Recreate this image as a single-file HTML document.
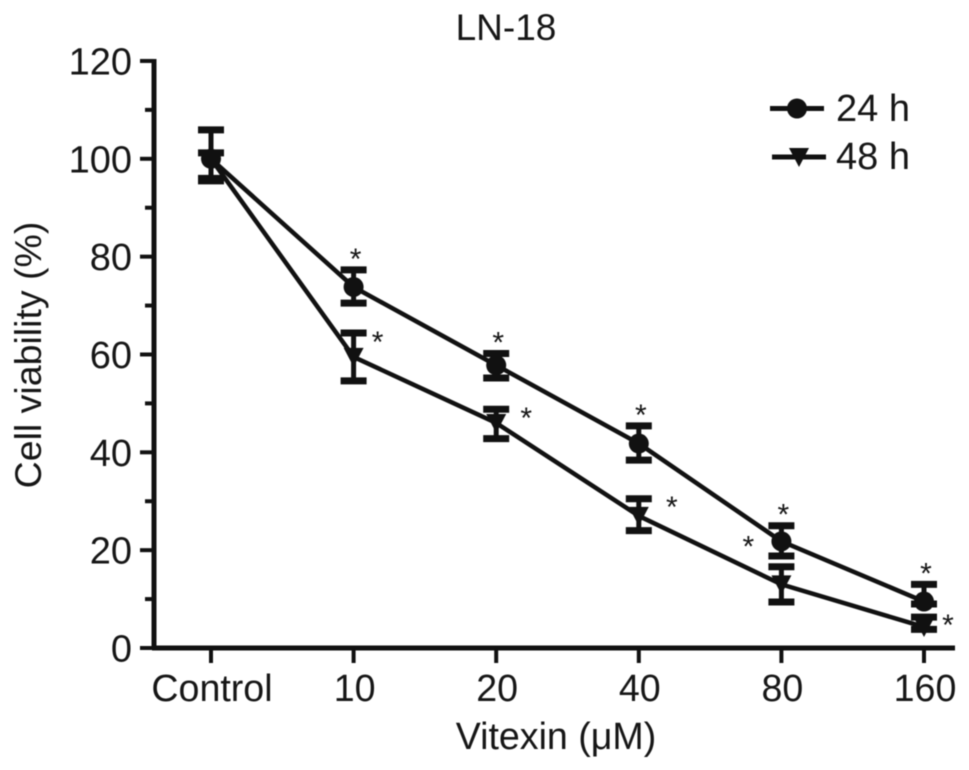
<!DOCTYPE html>
<html>
<head>
<meta charset="utf-8">
<style>
html,body{margin:0;padding:0;background:#fff;}
svg{display:block;filter:blur(0.5px);}
text{font-family:"Liberation Sans",sans-serif;fill:#161616;}
</style>
</head>
<body>
<svg id="chart" width="969" height="770" viewBox="0 0 969 770" xmlns="http://www.w3.org/2000/svg"></svg>
<script>
const categories = ['Control', '10', '20', '40', '80', '160'];
const yTickLabels = [0, 20, 40, 60, 80, 100, 120];
const yMinorTicks = [10, 30, 50, 70, 90, 110];
const values24h = [100, 73.8, 57.8, 41.8, 21.8, 9.5];
const errUp24h = [5.9, 3.5, 2.4, 3.6, 3.2, 3.5];
const errDown24h = [4, 3.3, 2.6, 3.4, 3, 0.5];
const values48h = [100, 59.5, 46, 27, 13, 4.3];
const errUp48h = [1.2, 4.9, 2.8, 3.5, 3.6, 2];
const errDown48h = [4.5, 4.9, 3.2, 3, 3.6, 0.5];
const stars24h = ['', '*', '*', '*', '*', '*'];
const stars48h = ['', '*', '*', '*', '*', '*'];

const svg = document.getElementById('chart');
const NS = 'http://www.w3.org/2000/svg';
const yAxis = v => 648 - v * 4.892;
const xAxis = i => 211 + i * 142.6;
const INK = '#111';

function make(tag, attrs, text) {
  const el = document.createElementNS(NS, tag);
  for (const k in attrs) el.setAttribute(k, attrs[k]);
  if (text !== undefined) el.textContent = text;
  svg.appendChild(el);
  return el;
}
function seg(x1, y1, x2, y2, w) {
  return make('line', {x1, y1, x2, y2, stroke: INK, 'stroke-width': w});
}

let el;
el = make('text', {x: 506, y: 40, 'font-size': 37, 'text-anchor': 'middle'}, 'LN-18');



el = seg(154, 59, 154, 650, 5);


el = seg(152, 648, 955, 648, 5);



yTickLabels.forEach(v => {
  const t = seg(140, yAxis(v), 154, yAxis(v), 4);
  
  
  const l = make('text', {x: 132, y: yAxis(v) + 13.5, 'font-size': 38, 'text-anchor': 'end'}, String(v));
  
  
});
yMinorTicks.forEach(v => {
  const t = seg(145, yAxis(v), 154, yAxis(v), 4);
  
  
});
categories.forEach((c, i) => {
  const t = seg(xAxis(i), 648, xAxis(i), 663, 4);
  
  
  const l = make('text', {x: xAxis(i) + 1, y: 701, 'font-size': 37.6, 'text-anchor': 'middle'}, c);
  
  
});

el = make('text', {x: 556, y: 749, 'font-size': 37.6, 'text-anchor': 'middle'}, 'Vitexin (μM)');


el = make('text', {x: 0, y: 0, 'font-size': 37.5, 'text-anchor': 'middle', transform: 'translate(41 355) rotate(-90)'}, 'Cell viability (%)');



function drawSeries(values, up, down, marker, name) {
  const pts = values.map((v, i) => xAxis(i) + ',' + yAxis(v)).join(' ');
  const line = make('polyline', {points: pts, fill: 'none', stroke: INK, 'stroke-width': 4.5, 'stroke-linejoin': 'round'});
  
  
  values.forEach((v, i) => {
    const x = xAxis(i), top = yAxis(v + up[i]), bot = yAxis(v - down[i]);
    const g = [seg(x, top, x, bot, 5), seg(x - 13, top, x + 13, top, 7), seg(x - 13, bot, x + 13, bot, 7)];
    g.forEach(e => {
      
      
    });
    const m = marker(x, yAxis(v));
    
    
  });
}
const circle = (x, y) => make('circle', {cx: x, cy: y, r: 10, fill: INK});
const triangle = (x, y) => make('polygon', {points: `${x - 10},${y - 9} ${x + 10},${y - 9} ${x},${y + 10}`, fill: INK});

drawSeries(values24h, errUp24h, errDown24h, circle, 'series-24h');
drawSeries(values48h, errUp48h, errDown48h, triangle, 'series-48h');

stars24h.forEach((s, i) => {
  if (!s) return;
  const l = make('text', {x: xAxis(i) + 2, y: yAxis(values24h[i] + errUp24h[i]) - 1, 'font-size': 30, 'text-anchor': 'middle'}, s);
  
  
});
const star48Dx = [0, 24, 30, 33, -33, 24];
const star48Dy = [0, -5, 5, 1, -28, 8];
stars48h.forEach((s, i) => {
  if (!s) return;
  const l = make('text', {x: xAxis(i) + star48Dx[i], y: yAxis(values48h[i]) + star48Dy[i], 'font-size': 30, 'text-anchor': 'middle'}, s);
  
  
});

el = seg(770, 108.5, 824, 108.5, 5);


el = circle(797, 108.5);


el = make('text', {x: 836, y: 121, 'font-size': 38}, '24 h');


el = seg(772, 157, 826, 157, 5);


el = triangle(799, 157);


el = make('text', {x: 836, y: 169, 'font-size': 38}, '48 h');


</script>
</body>
</html>
